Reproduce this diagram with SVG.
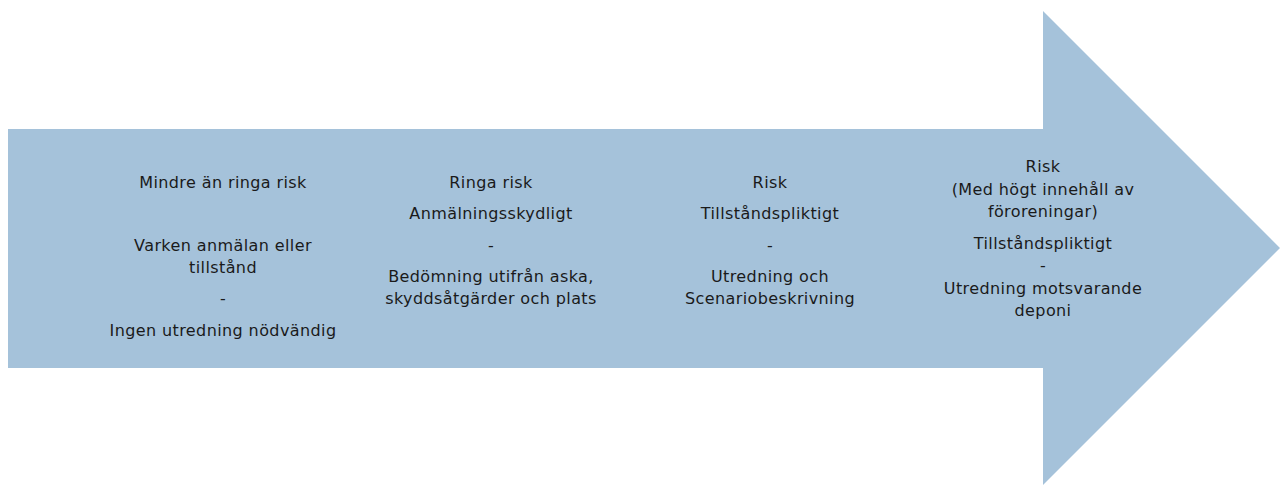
<svg xmlns="http://www.w3.org/2000/svg" width="1280" height="485" viewBox="0 0 1280 485">
<style>
.t{font-family:"DejaVu Sans","Liberation Sans",sans-serif;font-size:16px;letter-spacing:0.4px;fill:#1a1a1a;text-anchor:middle}
</style>
<rect width="1280" height="485" fill="#ffffff"/>
<g id="arrow">
<polygon points="8,129 1043,129 1043,11 1280,248 1043,485 1043,368 8,368" fill="#a5c2da"/>
</g>
<g id="stage1">
<text class="t" x="223" y="188">Mindre än ringa risk</text>
<text class="t" x="223" y="251">Varken anmälan eller</text>
<text class="t" x="223" y="273">tillstånd</text>
<text class="t" x="223" y="304">-</text>
<text class="t" x="223" y="336">Ingen utredning nödvändig</text>
</g>
<g id="stage2">
<text class="t" x="491" y="188">Ringa risk</text>
<text class="t" x="491" y="219">Anmälningsskydligt</text>
<text class="t" x="491" y="251">-</text>
<text class="t" x="491" y="282">Bedömning utifrån aska,</text>
<text class="t" x="491" y="304">skyddsåtgärder och plats</text>
</g>
<g id="stage3">
<text class="t" x="770" y="188">Risk</text>
<text class="t" x="770" y="219">Tillståndspliktigt</text>
<text class="t" x="770" y="251">-</text>
<text class="t" x="770" y="282">Utredning och</text>
<text class="t" x="770" y="304">Scenariobeskrivning</text>
</g>
<g id="stage4">
<text class="t" x="1043" y="172">Risk</text>
<text class="t" x="1043" y="195">(Med högt innehåll av</text>
<text class="t" x="1043" y="217">föroreningar)</text>
<text class="t" x="1043" y="249">Tillståndspliktigt</text>
<text class="t" x="1043" y="271">-</text>
<text class="t" x="1043" y="294">Utredning motsvarande</text>
<text class="t" x="1043" y="316">deponi</text>
</g>
<g id="connectors"></g>
</svg>
